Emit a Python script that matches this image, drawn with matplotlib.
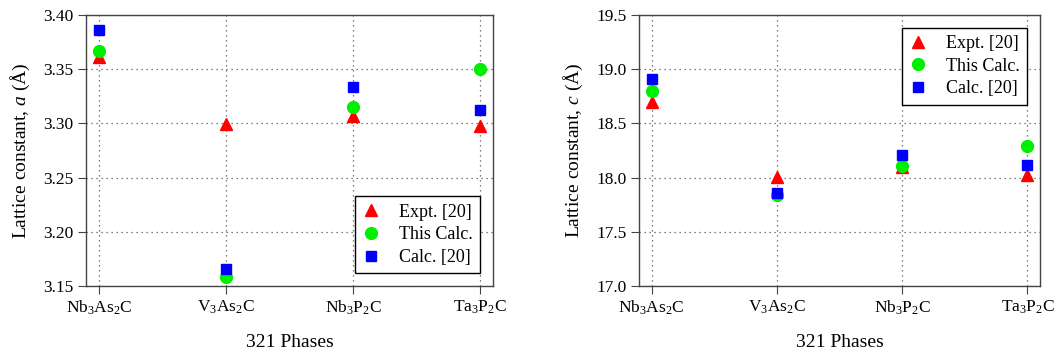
import matplotlib.pyplot as plt
import numpy as np

plt.rcParams["font.family"] = ["Liberation Serif", "DejaVu Serif"]
plt.rcParams["mathtext.fontset"] = "custom"
plt.rcParams["mathtext.rm"] = "Liberation Serif"
plt.rcParams["mathtext.it"] = "Liberation Serif:italic"

phases = [r"Nb$_3$As$_2$C", r"V$_3$As$_2$C", r"Nb$_3$P$_2$C", r"Ta$_3$P$_2$C"]

a_expt = [3.361, 3.299, 3.307, 3.298]
a_this = [3.367, 3.158, 3.315, 3.350]
a_calc = [3.386, 3.166, 3.334, 3.312]

c_expt = [18.70, 18.01, 18.10, 18.02]
c_this = [18.80, 17.84, 18.11, 18.29]
c_calc = [18.91, 17.86, 18.21, 18.12]

fig = plt.figure(figsize=(10.62, 3.54), dpi=100)
ax1 = fig.add_axes([86 / 1062, 1 - 286 / 354, 407 / 1062, 271 / 354])
ax2 = fig.add_axes([639 / 1062, 1 - 286 / 354, 401 / 1062, 271 / 354])

x = np.arange(len(phases))


def draw(ax, expt, this, calc, ylim, yticks, ylabel, loc, fmt):
    ax.plot(x, expt, ls="none", marker="^", ms=8, color="red", label="Expt. [20]")
    ax.plot(x, this, ls="none", marker="o", ms=8.5, color="#00ee00", label="This Calc.")
    ax.plot(x, calc, ls="none", marker="s", ms=6.5, color="blue", label="Calc. [20]")
    ax.set_xlim(-0.1, 3.1)
    ax.set_ylim(*ylim)
    ax.set_yticks(yticks)
    ax.set_yticklabels([fmt.format(v) for v in yticks])
    ax.set_xticks(x)
    ax.set_xticklabels(phases)
    ax.grid(True, ls=(0, (1, 3)), color="#555555", lw=0.9)
    ax.set_axisbelow(True)
    for sp in ax.spines.values():
        sp.set_color("#444444")
        sp.set_linewidth(1.0)
    ax.tick_params(labelsize=12.5, color="#444444", length=5.5, pad=3.5)
    ax.set_xlabel("321 Phases", fontsize=14, labelpad=12)
    ax.set_ylabel(ylabel, fontsize=14, labelpad=8)
    leg = ax.legend(loc=loc, fontsize=13, fancybox=False, edgecolor="black",
                    framealpha=1, handlelength=1.0, handletextpad=1.05,
                    borderpad=0.4, labelspacing=0.32, borderaxespad=0.7)
    leg.get_frame().set_linewidth(1.0)


draw(ax1, a_expt, a_this, a_calc, (3.15, 3.40),
     [3.15, 3.20, 3.25, 3.30, 3.35, 3.40],
     r"Lattice constant, $\mathit{a}$ (Å)", "lower right", "{:.2f}")
draw(ax2, c_expt, c_this, c_calc, (17.0, 19.5),
     [17.0, 17.5, 18.0, 18.5, 19.0, 19.5],
     r"Lattice constant, $\mathit{c}$ (Å)", "upper right", "{:.1f}")

fig.savefig("out.png", dpi=100)
